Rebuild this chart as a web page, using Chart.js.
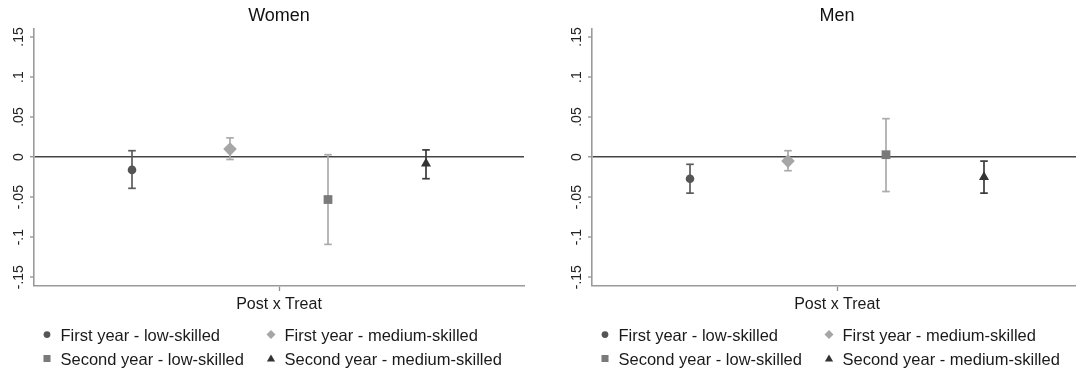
<!DOCTYPE html>
<html><head><meta charset="utf-8">
<script src="https://cdn.jsdelivr.net/npm/chart.js@4.4.1/dist/chart.umd.min.js"></script>
<style>
html,body{margin:0;padding:0;background:#fff;overflow:hidden;width:1076px;height:369px;position:relative;}
canvas{position:absolute;top:0;}
</style></head><body>
<canvas id="women" width="558" height="369" style="left:0"></canvas>
<canvas id="men" width="558" height="369" style="left:558px"></canvas>
<script>
// ---- data ----
const seriesNames = ['First year - low-skilled', 'First year - medium-skilled', 'Second year - low-skilled', 'Second year - medium-skilled'];
const xPositions = [0.2, 0.4, 0.6, 0.8];
const xCategory = ['Post x Treat'];
const panelTitles = ['Women', 'Men'];

const womenEst  = [-0.016, 0.010, -0.053, -0.008];
const womenLow  = [-0.039, -0.003, -0.109, -0.027];
const womenHigh = [0.008, 0.024, 0.003, 0.009];

const menEst  = [-0.027, -0.005, 0.003, -0.025];
const menLow  = [-0.045, -0.017, -0.043, -0.045];
const menHigh = [-0.009, 0.008, 0.048, -0.005];

const yTicks = [-0.15, -0.1, -0.05, 0, 0.05, 0.1, 0.15];

// ---- styles ----
const FONT = '"Liberation Sans", Arial, sans-serif';
const styles = [
  {pointStyle: 'circle',   radius: 4.3, color: '#555555', ci: '#5c5c5c'},
  {pointStyle: 'rectRot',  radius: 6.8, color: '#a6a6a6', ci: '#ababab'},
  {pointStyle: 'rect',     radius: 6.2, color: '#7a7a7a', ci: '#ababab'},
  {pointStyle: 'triangle', radius: 5.8, color: '#333333', ci: '#3a3a3a'}
];

function fmt(v) {
  if (v === 0) return '0';
  const s = String(Math.abs(v)).replace(/^0/, '');
  return (v < 0 ? '-' : '') + s;
}

const yLabelPlugin = {
  id: 'yLabels',
  afterDraw(chart) {
    const ctx = chart.ctx, y = chart.scales.y;
    ctx.save();
    ctx.font = '14px ' + FONT;
    ctx.fillStyle = '#222';
    ctx.textAlign = 'center';
    ctx.textBaseline = 'middle';
    yTicks.forEach(v => {
      const py = y.getPixelForValue(v);
      ctx.save();
      ctx.translate(chart.chartArea.left - 14.5, py);
      ctx.rotate(-Math.PI / 2);
      ctx.fillText(fmt(v), 0, 0);
      ctx.restore();
    });
    ctx.restore();
  }
};

function drawMarker(ctx, style, x, y, s) {
  ctx.beginPath();
  if (style === 'circle') { ctx.arc(x, y, s * 0.45, 0, Math.PI * 2); }
  else if (style === 'rectRot') { ctx.moveTo(x, y - s*0.6); ctx.lineTo(x + s*0.6, y); ctx.lineTo(x, y + s*0.6); ctx.lineTo(x - s*0.6, y); ctx.closePath(); }
  else if (style === 'rect') { ctx.rect(x - s*0.47, y - s*0.47, s*0.94, s*0.94); }
  else { ctx.moveTo(x, y - s*0.55); ctx.lineTo(x + s*0.55, y + s*0.4); ctx.lineTo(x - s*0.55, y + s*0.4); ctx.closePath(); }
  ctx.fill();
}

const legendPlugin = {
  id: 'gridLegend',
  afterDraw(chart) {
    const ctx = chart.ctx;
    const cx = (chart.chartArea.left + chart.chartArea.right) / 2;
    const colMarker = [-232, -8];
    const textGap = 13.5;
    const rowY = [334.5, 358.5];
    ctx.save();
    ctx.font = '16.5px ' + FONT;
    ctx.textAlign = 'left';
    ctx.textBaseline = 'alphabetic';
    seriesNames.forEach((name, i) => {
      const col = i % 2, row = Math.floor(i / 2);
      const mx = cx + colMarker[col], my = rowY[row];
      ctx.fillStyle = styles[i].color;
      drawMarker(ctx, styles[i].pointStyle, mx, my, 7.5);
      ctx.fillStyle = '#1a1a1a';
      ctx.fillText(name, mx + textGap, my + 6.3);
    });
    ctx.restore();
  }
};

function makeChart(id, title, est, lo, hi) {
  const datasets = [];
  est.forEach((v, i) => {
    datasets.push({
      label: seriesNames[i],
      data: [{x: xPositions[i], y: v}],
      pointStyle: styles[i].pointStyle,
      pointRadius: styles[i].radius,
      backgroundColor: styles[i].color,
      borderColor: styles[i].color,
      pointBorderWidth: 0,
      showLine: false
    });
  });
  est.forEach((v, i) => {
    datasets.push({
      label: seriesNames[i] + ' CI',
      data: [{x: xPositions[i], y: lo[i]}, {x: xPositions[i], y: hi[i]}],
      showLine: true,
      borderColor: styles[i].ci,
      borderWidth: 1.7,
      pointStyle: 'line',
      pointRadius: 3.8,
      pointBorderWidth: 1.7,
      pointBorderColor: styles[i].ci,
      pointBackgroundColor: styles[i].ci
    });
  });
  return new Chart(document.getElementById(id), {
    type: 'scatter',
    data: {datasets},
    options: {
      responsive: false,
      animation: false,
      devicePixelRatio: 1,
      layout: {padding: {left: 34, right: 34, top: 0, bottom: 0}},
      plugins: {
        legend: {display: false},
        tooltip: {enabled: false},
        title: {
          display: true, text: title, color: '#111',
          font: {family: FONT, size: 18, weight: 'normal', lineHeight: 1.2},
          padding: {top: 5, bottom: 2.4}
        }
      },
      scales: {
        x: {
          type: 'linear', min: 0, max: 1,
          afterBuildTicks(s) { s.ticks = [{value: 0.5}]; },
          afterFit(s) { s.height = 83; },
          ticks: {display: false},
          grid: {display: true, drawOnChartArea: false, drawTicks: true, tickLength: 5, tickColor: '#8f8f8f', tickWidth: 1.3},
          border: {display: true, color: '#9a9a9a', width: 1.6},
          title: {
            display: true, text: xCategory[0], color: '#1a1a1a',
            font: {family: FONT, size: 16, lineHeight: 1.2},
            padding: {top: 0, bottom: 54.4}
          }
        },
        y: {
          type: 'linear', min: -0.161, max: 0.16,
          afterBuildTicks(s) { s.ticks = yTicks.map(v => ({value: v})); },
          afterFit(s) { s.width = 0; },
          ticks: {display: false},
          grid: {
            display: true, drawOnChartArea: true, drawTicks: true, tickLength: 4,
            color: c => (c.tick && c.tick.value === 0) ? '#444444' : 'rgba(0,0,0,0)',
            lineWidth: c => (c.tick && c.tick.value === 0) ? 1.5 : 0,
            tickColor: '#8f8f8f', tickWidth: 1.3
          },
          border: {display: true, color: '#9a9a9a', width: 1.6}
        }
      }
    },
    plugins: [yLabelPlugin, legendPlugin]
  });
}

makeChart('women', panelTitles[0], womenEst, womenLow, womenHigh);
makeChart('men', panelTitles[1], menEst, menLow, menHigh);
</script>
</body></html>
